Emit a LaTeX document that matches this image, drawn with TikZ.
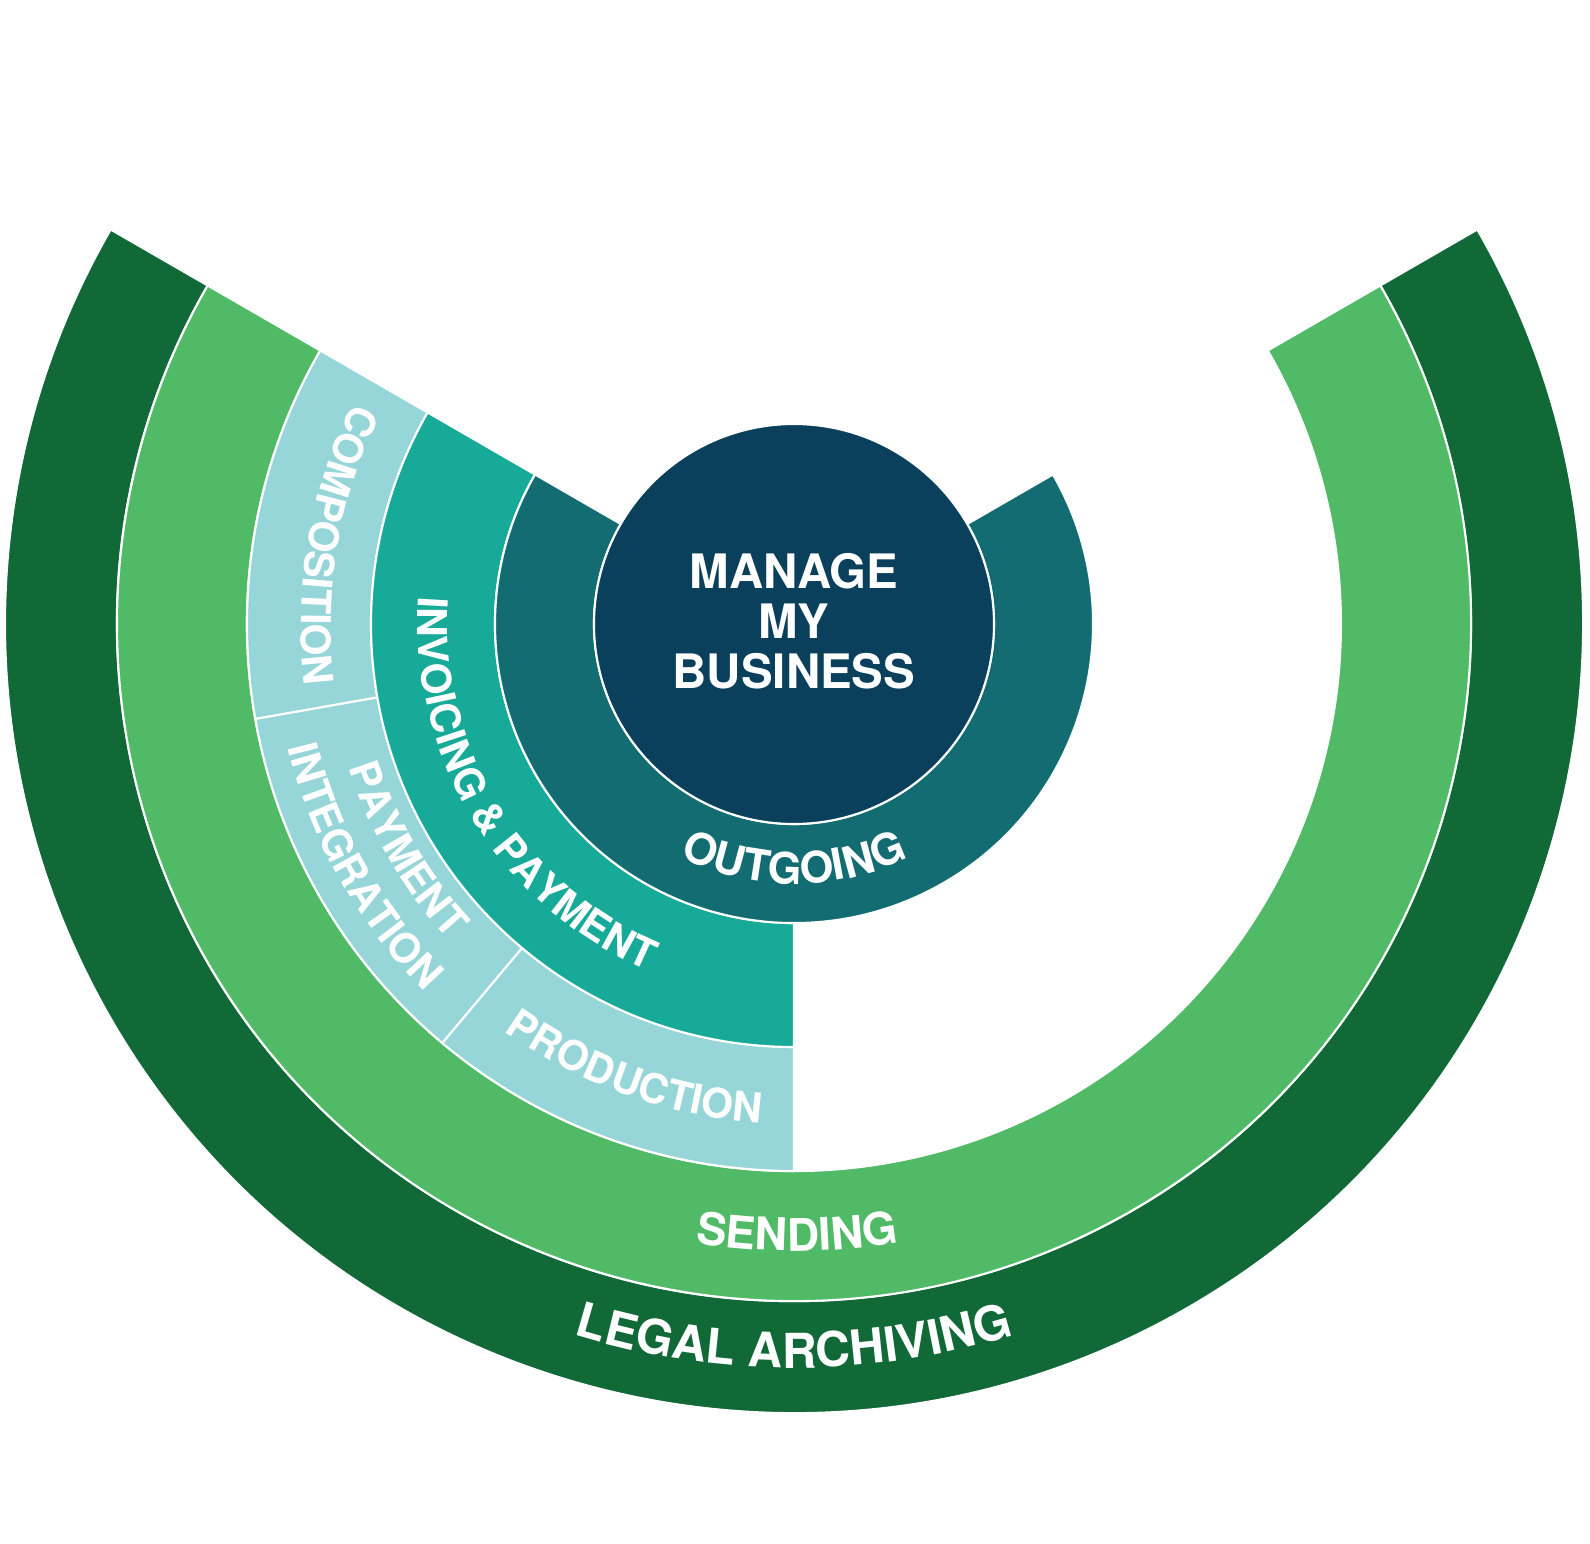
\documentclass[tikz,border=0pt]{standalone}
\definecolor{manageNavy}{RGB}{10,64,92}
\definecolor{outgoingTeal}{RGB}{19,108,114}
\definecolor{invoiceTeal}{RGB}{24,170,153}
\definecolor{segmentBlue}{RGB}{150,213,216}
\definecolor{sendingGreen}{RGB}{80,186,103}
\definecolor{archiveGreen}{RGB}{16,105,54}
\usepackage{fontspec}
\setmainfont{TeX Gyre Heros}
\usepackage{tikz}
\usetikzlibrary{decorations.text}

% ring band: start angle, end angle, inner radius, outer radius, colour
\newcommand{\ringband}[5]{%
  \filldraw[band, fill=#5] (#1:#3) arc[start angle=#1, end angle=#2, radius=#3]
    -- (#2:#4) arc[start angle=#2, end angle=#1, radius=#4] -- cycle;}
\newcommand{\ringfont}[1]{\fontsize{#1}{#1}\selectfont\bfseries\color{white}}

\begin{document}
\begin{tikzpicture}[band/.style={draw=white, line width=0.6pt},
    ringtext/.style={decorate, decoration={text along path, text align=center, text={#1}}}]
  \useasboundingbox (-7.94,-9.20) rectangle (7.96,6.24);
  % Outer rings
  \ringband{150}{390}{6.77}{7.89}{archiveGreen}
  \ringband{150}{390}{5.47}{6.77}{sendingGreen}
  % Left segments
  \ringband{150}{190}{4.23}{5.47}{segmentBlue}
  \ringband{190}{230}{4.23}{5.47}{segmentBlue}
  \ringband{230}{270}{4.23}{5.47}{segmentBlue}
  \ringband{150}{270}{2.99}{4.23}{invoiceTeal}
  % Inner ring and core
  \ringband{150}{390}{2.00}{2.99}{outgoingTeal}
  \filldraw[band, fill=manageNavy] (0,0) circle[radius=2.00];
  \node[font=\fontsize{13.5}{14.2}\selectfont\bfseries, text=white, align=center]
    (manage) at (0,0.025) {MANAGE\\MY\\BUSINESS};
  % Curved labels
  \path[ringtext={|\ringfont{12.4}|OUTGOING}]
    (225:2.60) arc[start angle=225, end angle=315, radius=2.60];
  \path[ringtext={|\ringfont{11.7}|INVOICING {\&} PAYMENT}]
    (151.5:3.76) arc[start angle=151.5, end angle=271.5, radius=3.76];
  \path[ringtext={|\ringfont{11.7}|COMPOSITION}]
    (150.25:4.93) arc[start angle=150.25, end angle=190.25, radius=4.93];
  \path[ringtext={|\ringfont{11.7}|PAYMENT}]
    (190.15:4.68) arc[start angle=190.15, end angle=230.15, radius=4.68];
  \path[ringtext={|\ringfont{11.7}|INTEGRATION}]
    (189.3:5.21) arc[start angle=189.3, end angle=229.3, radius=5.21];
  \path[ringtext={|\ringfont{11.7}|PRODUCTION}]
    (230.4:5.00) arc[start angle=230.4, end angle=270.4, radius=5.00];
  \path[ringtext={|\ringfont{12.8}|SENDING}]
    (240.3:6.27) arc[start angle=240.3, end angle=300.3, radius=6.27];
  \path[ringtext={|\ringfont{13.7}|LEGAL ARCHIVING}]
    (240:7.44) arc[start angle=240, end angle=300, radius=7.44];
\end{tikzpicture}
\end{document}
